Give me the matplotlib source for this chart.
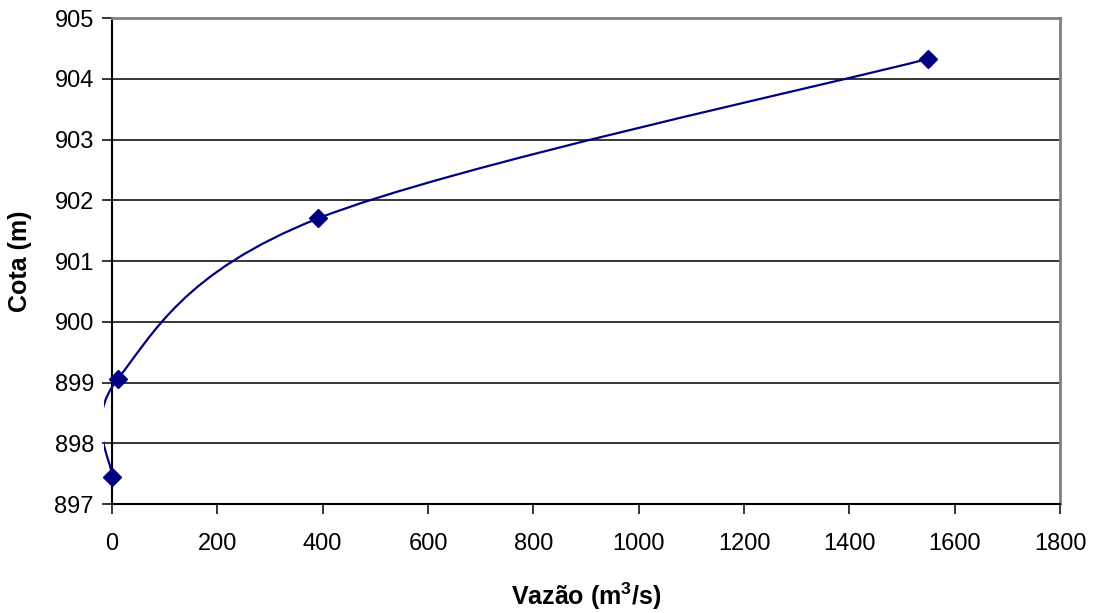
import numpy as np
import matplotlib
matplotlib.use("Agg")
import matplotlib.pyplot as plt
from matplotlib.path import Path
from matplotlib.patches import PathPatch, Rectangle

plt.rcParams['font.family'] = ['Liberation Sans', 'DejaVu Sans']
plt.rcParams['mathtext.fontset'] = 'custom'
plt.rcParams['mathtext.rm'] = 'Liberation Sans'
plt.rcParams['mathtext.bf'] = 'Liberation Sans:bold'

# data
vazao = [0, 11, 391, 1550]
cota = [897.44, 899.06, 901.70, 904.33]

x_ticks = [0, 200, 400, 600, 800, 1000, 1200, 1400, 1600, 1800]
y_ticks = [897, 898, 899, 900, 901, 902, 903, 904, 905]

navy = '#000080'


def smooth_path(xs, ys):
    # Excel-like smoothed line: cubic bezier with Catmull-Rom control points
    pts = np.column_stack([xs, ys]).astype(float)
    n = len(pts)
    verts = [pts[0]]
    codes = [Path.MOVETO]
    for i in range(n - 1):
        p_prev = pts[max(i - 1, 0)]
        p0 = pts[i]
        p1 = pts[i + 1]
        p_next = pts[min(i + 2, n - 1)]
        c1 = p0 + (p1 - p_prev) / 6.0
        c2 = p1 - (p_next - p0) / 6.0
        verts += [c1, c2, p1]
        codes += [Path.CURVE4] * 3
    return Path(verts, codes)


fig = plt.figure(figsize=(10.96, 6.13), dpi=100)
ax = fig.add_axes([0.1022, 0.1778, 0.8650, 0.7928])

for y in y_ticks[1:-1]:
    ax.axhline(y, color='black', lw=1.1, zorder=1)

patch = PathPatch(smooth_path(vazao, cota), facecolor='none', edgecolor=navy,
                  lw=1.6, zorder=3)
ax.add_patch(patch)
# let the curve spill slightly left of the plot area, like the original
clip = Rectangle((-0.008, 0), 1.016, 1, transform=ax.transAxes)
patch.set_clip_path(clip)

ax.plot(vazao, cota, linestyle='none', marker='D', markersize=9,
        color=navy, zorder=4, clip_on=False)

ax.set_xlim(0, 1800)
ax.set_ylim(897, 905)
ax.set_xticks(x_ticks)
ax.set_yticks(y_ticks)
ax.tick_params(axis='both', labelsize=17, length=7, width=1.1, color='black',
               direction='out')
ax.tick_params(axis='x', pad=14)
ax.tick_params(axis='y', pad=6)

ax.spines['left'].set_color('black')
ax.spines['bottom'].set_color('black')
ax.spines['left'].set_linewidth(1.5)
ax.spines['bottom'].set_linewidth(1.5)
ax.spines['top'].set_color('#808080')
ax.spines['right'].set_color('#808080')
ax.spines['top'].set_linewidth(2)
ax.spines['right'].set_linewidth(2)

ax.set_xlabel(r'Vazão (m$^\mathbf{3}$/s)', fontsize=18, fontweight='bold',
              labelpad=18)
ax.set_ylabel('Cota (m)', fontsize=18, fontweight='bold', labelpad=16)

fig.savefig('out.png', dpi=100)
